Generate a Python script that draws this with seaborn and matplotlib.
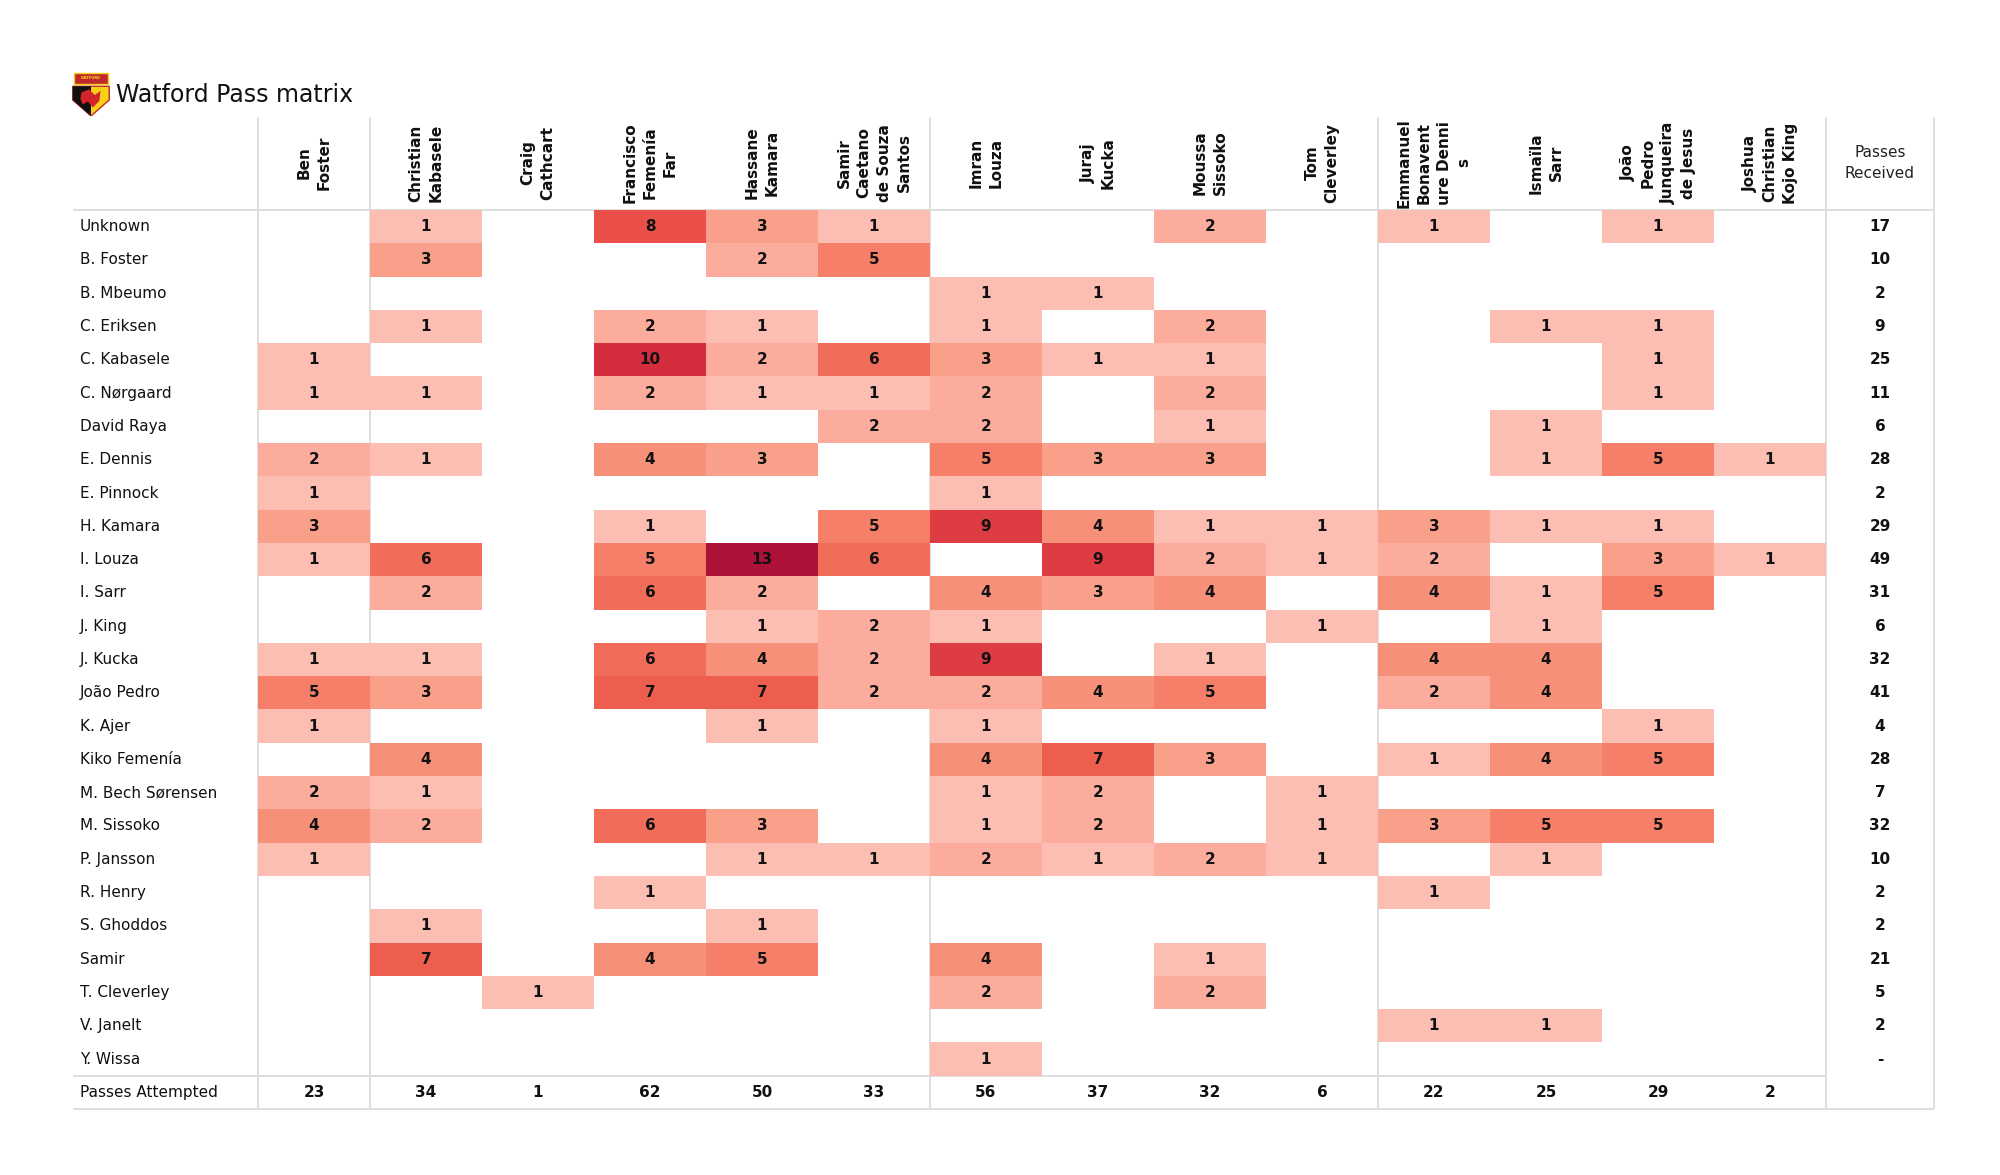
import numpy as np
import pandas as pd
import matplotlib
matplotlib.use("Agg")
import matplotlib.pyplot as plt
import seaborn as sns
from matplotlib.colors import LinearSegmentedColormap
from matplotlib.patches import Polygon, Rectangle

sns.set_theme(style="white")
plt.rcParams['font.family'] = ['DejaVu Sans']

# ---------------- data ----------------
receivers = ["Ben\nFoster", "Christian\nKabasele", "Craig\nCathcart",
             "Francisco\nFemenía\nFar", "Hassane\nKamara",
             "Samir\nCaetano\nde Souza\nSantos", "Imran\nLouza", "Juraj\nKucka",
             "Moussa\nSissoko", "Tom\nCleverley",
             "Emmanuel\nBonavent\nure Denni\ns", "Ismaïla\nSarr",
             "João\nPedro\nJunqueira\nde Jesus", "Joshua\nChristian\nKojo King"]

passers = ["Unknown", "B. Foster", "B. Mbeumo", "C. Eriksen", "C. Kabasele",
           "C. Nørgaard", "David Raya", "E. Dennis", "E. Pinnock", "H. Kamara",
           "I. Louza", "I. Sarr", "J. King", "J. Kucka", "João Pedro", "K. Ajer",
           "Kiko Femenía", "M. Bech Sørensen", "M. Sissoko", "P. Jansson",
           "R. Henry", "S. Ghoddos", "Samir", "T. Cleverley", "V. Janelt",
           "Y. Wissa"]

passes = [
    [0, 1, 0, 8, 3, 1, 0, 0, 2, 0, 1, 0, 1, 0],
    [0, 3, 0, 0, 2, 5, 0, 0, 0, 0, 0, 0, 0, 0],
    [0, 0, 0, 0, 0, 0, 1, 1, 0, 0, 0, 0, 0, 0],
    [0, 1, 0, 2, 1, 0, 1, 0, 2, 0, 0, 1, 1, 0],
    [1, 0, 0, 10, 2, 6, 3, 1, 1, 0, 0, 0, 1, 0],
    [1, 1, 0, 2, 1, 1, 2, 0, 2, 0, 0, 0, 1, 0],
    [0, 0, 0, 0, 0, 2, 2, 0, 1, 0, 0, 1, 0, 0],
    [2, 1, 0, 4, 3, 0, 5, 3, 3, 0, 0, 1, 5, 1],
    [1, 0, 0, 0, 0, 0, 1, 0, 0, 0, 0, 0, 0, 0],
    [3, 0, 0, 1, 0, 5, 9, 4, 1, 1, 3, 1, 1, 0],
    [1, 6, 0, 5, 13, 6, 0, 9, 2, 1, 2, 0, 3, 1],
    [0, 2, 0, 6, 2, 0, 4, 3, 4, 0, 4, 1, 5, 0],
    [0, 0, 0, 0, 1, 2, 1, 0, 0, 1, 0, 1, 0, 0],
    [1, 1, 0, 6, 4, 2, 9, 0, 1, 0, 4, 4, 0, 0],
    [5, 3, 0, 7, 7, 2, 2, 4, 5, 0, 2, 4, 0, 0],
    [1, 0, 0, 0, 1, 0, 1, 0, 0, 0, 0, 0, 1, 0],
    [0, 4, 0, 0, 0, 0, 4, 7, 3, 0, 1, 4, 5, 0],
    [2, 1, 0, 0, 0, 0, 1, 2, 0, 1, 0, 0, 0, 0],
    [4, 2, 0, 6, 3, 0, 1, 2, 0, 1, 3, 5, 5, 0],
    [1, 0, 0, 0, 1, 1, 2, 1, 2, 1, 0, 1, 0, 0],
    [0, 0, 0, 1, 0, 0, 0, 0, 0, 0, 1, 0, 0, 0],
    [0, 1, 0, 0, 1, 0, 0, 0, 0, 0, 0, 0, 0, 0],
    [0, 7, 0, 4, 5, 0, 4, 0, 1, 0, 0, 0, 0, 0],
    [0, 0, 1, 0, 0, 0, 2, 0, 2, 0, 0, 0, 0, 0],
    [0, 0, 0, 0, 0, 0, 0, 0, 0, 0, 1, 1, 0, 0],
    [0, 0, 0, 0, 0, 0, 1, 0, 0, 0, 0, 0, 0, 0],
]

passes_received = ["17", "10", "2", "9", "25", "11", "6", "28", "2", "29", "49",
                   "31", "6", "32", "41", "4", "28", "7", "32", "10", "2", "2",
                   "21", "5", "2", "-"]

passes_attempted = [23, 34, 1, 62, 50, 33, 56, 37, 32, 6, 22, 25, 29, 2]

# ---------------- style ----------------
shade_colors = ["#fcbdb2", "#fbac9c", "#f9a08b", "#f79079", "#f57f68",
                "#f26d59", "#ee5e4f", "#ea4f4a", "#dd3c43", "#d32d3e",
                "#c52140", "#b9183c", "#ad1137"]
cmap = LinearSegmentedColormap.from_list("watford", shade_colors)
line_col = "#dedede"
txt_col = "#111111"

df = pd.DataFrame(passes, index=passers,
                  columns=[r.replace("\n", " ") for r in receivers])
mask = df.values == 0

fig = plt.figure(figsize=(20, 11.75), dpi=100)
fig.patch.set_facecolor("white")

L, R, T, B = 73, 1934, 117, 1109
ax = fig.add_axes([L / 2000, 1 - B / 1175, (R - L) / 2000, (B - T) / 1175])

sns.heatmap(df, mask=mask, cmap=cmap, vmin=1, vmax=13, cbar=False,
            annot=True, fmt="d",
            annot_kws=dict(fontsize=11, fontweight="bold", color=txt_col),
            linewidths=0, xticklabels=False, yticklabels=False, ax=ax)

n_rows, n_cols = df.shape
colw, rowh = 112.0, 33.3
x_left = -(258 - L) / colw
x_right = n_cols + (R - 258 - n_cols * colw) / colw
y_top = -(210 - T) / rowh
y_bot = n_rows + 1
ax.set_xlim(x_left, x_right)
ax.set_ylim(y_bot, y_top)
ax.axis("off")

# grid lines (behind cells)
kw = dict(color=line_col, lw=1.4, zorder=0.5, clip_on=False, solid_capstyle="butt")
ax.plot([x_left, x_right], [0, 0], **kw)
ax.plot([x_left, n_cols], [n_rows, n_rows], **kw)
ax.plot([x_left, x_right], [y_bot, y_bot], **kw)
for xv in [0, 1, 6, 10, n_cols, x_right]:
    ax.plot([xv, xv], [y_top, y_bot], **kw)

# row labels
lab_x = -(258 - 80) / colw
for i, name in enumerate(passers):
    ax.text(lab_x, i + 0.5, name, ha="left", va="center", fontsize=11, color=txt_col)
ax.text(lab_x, n_rows + 0.5, "Passes Attempted", ha="left", va="center",
        fontsize=11, color=txt_col)

# column headers
hdr_y = -(210 - 163) / rowh
for j, name in enumerate(receivers):
    ax.text(j + 0.5, hdr_y, name, rotation=90, ha="center", va="center",
            multialignment="center", linespacing=1.42, fontsize=11,
            fontweight="bold", color=txt_col)
pr_x = (n_cols + x_right) / 2
ax.text(pr_x, hdr_y, "Passes\nReceived", ha="center", va="center",
        multialignment="center", linespacing=1.5, fontsize=11, color="#222222")

# totals
for i, v in enumerate(passes_received):
    ax.text(pr_x, i + 0.5, v, ha="center", va="center", fontsize=11,
            fontweight="bold", color=txt_col)
for j, v in enumerate(passes_attempted):
    ax.text(j + 0.5, n_rows + 0.5, str(v), ha="center", va="center", fontsize=11,
            fontweight="bold", color=txt_col)

# title
fig.text(116 / 2000, 1 - 102.5 / 1175, "Watford Pass matrix", fontsize=17,
         va="baseline", ha="left", color=txt_col)

# simple crest
lax = fig.add_axes([72 / 2000, 1 - 116 / 1175, 38 / 2000, 48 / 1175])
lax.set_xlim(0, 1)
lax.set_ylim(0, 1.26)
lax.axis("off")
lax.add_patch(Polygon([(0.02, 0.78), (0.98, 0.78), (0.98, 0.42), (0.5, 0.0),
                       (0.02, 0.42)], closed=True, fc="#f7d117", ec="#c0282d", lw=1))
lax.add_patch(Polygon([(0.02, 0.78), (0.5, 0.78), (0.5, 0.0), (0.02, 0.42)],
                      closed=True, fc="#111111", ec="none"))
lax.add_patch(Polygon([(0.25, 0.62), (0.45, 0.70), (0.6, 0.55), (0.75, 0.66),
                       (0.72, 0.40), (0.55, 0.22), (0.42, 0.38), (0.28, 0.30),
                       (0.22, 0.45)], closed=True, fc="#d3242b", ec="none"))
lax.add_patch(Rectangle((0.06, 0.84), 0.88, 0.3, fc="#c0282d", ec="#f7d117", lw=1))
lax.text(0.5, 0.99, "WATFORD", ha="center", va="center", fontsize=2.6,
         color="#f7d117", fontweight="bold")

fig.savefig("out.png", dpi=100, facecolor="white")
